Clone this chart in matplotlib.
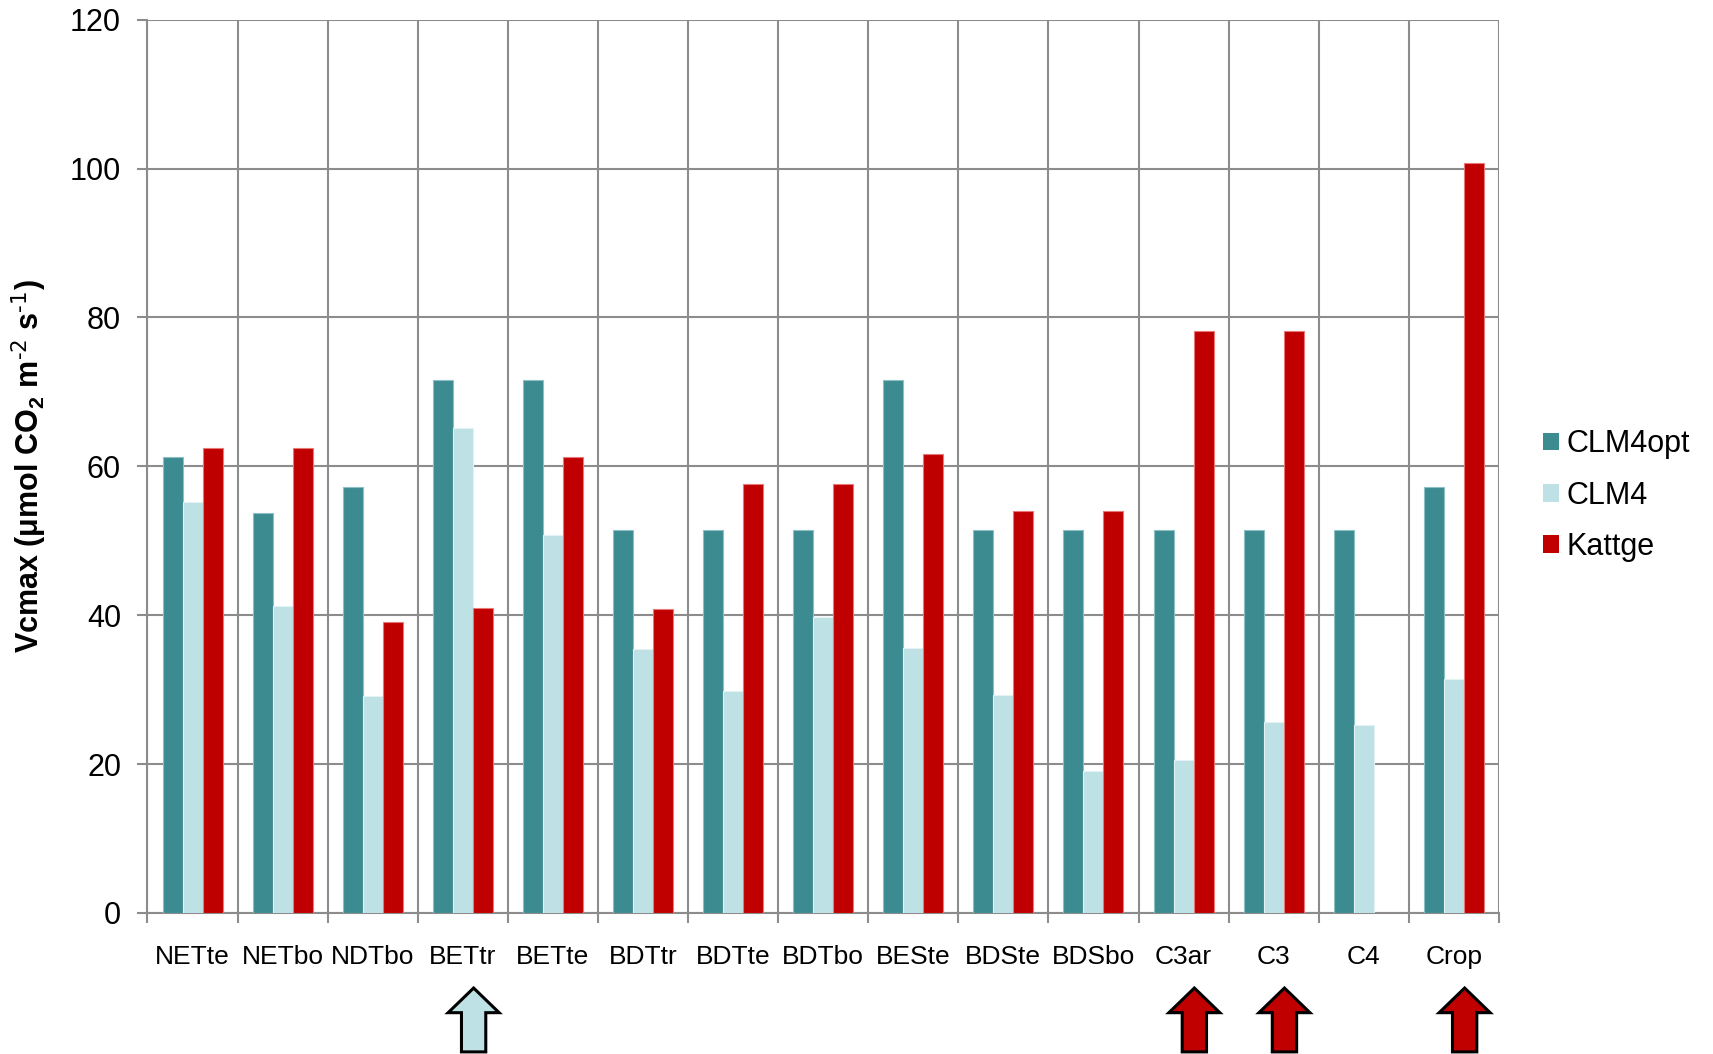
import matplotlib
matplotlib.use("Agg")
import matplotlib.pyplot as plt
import numpy as np
from matplotlib.patches import Patch, Polygon
import matplotlib.transforms as mtransforms

plt.rcParams['font.family'] = ['Liberation Sans', 'DejaVu Sans']
plt.rcParams['mathtext.default'] = 'regular'

categories = ['NETte', 'NETbo', 'NDTbo', 'BETtr', 'BETte', 'BDTtr', 'BDTte', 'BDTbo',
              'BESte', 'BDSte', 'BDSbo', 'C3ar', 'C3', 'C4', 'Crop']
clm4opt = [61.3, 53.7, 57.2, 71.6, 71.6, 51.5, 51.5, 51.5, 71.6, 51.5, 51.5, 51.5, 51.5, 51.5, 57.2]
clm4 = [55.2, 41.3, 29.2, 65.2, 50.8, 35.5, 29.8, 39.8, 35.6, 29.3, 19.1, 20.5, 25.7, 25.2, 31.4]
kattge = [62.5, 62.5, 39.1, 41.0, 61.3, 40.9, 57.6, 57.6, 61.6, 54.0, 54.0, 78.2, 78.2, 0.0, 100.7]
series_names = ['CLM4opt', 'CLM4', 'Kattge']
colors = ['#3C8B91', '#BDE1E5', '#C00000']
edgecolors = ['#8DC0C4', '#E3F2F4', '#E87878']

arrow_categories = ['BETtr', 'C3ar', 'C3', 'Crop']
arrow_colors = ['#BDE1E5', '#C00000', '#C00000', '#C00000']
yticks = [0, 20, 40, 60, 80, 100, 120]

fig = plt.figure(figsize=(17.13, 10.54), dpi=100)
ax = fig.add_axes([0.0861, 0.1338, 0.875 - 0.0861, 0.9813 - 0.1338])

x = np.arange(len(categories))
w = 0.222
for k, (vals, name) in enumerate(zip([clm4opt, clm4, kattge], series_names)):
    ax.bar(x + (k - 1) * w, vals, width=w, color=colors[k], edgecolor=edgecolors[k],
           linewidth=0.8, zorder=3, label=name)

ax.set_xlim(-0.5, len(categories) - 0.5)
ax.set_ylim(0, 120)
ax.set_yticks(yticks)
ax.set_yticklabels([str(v) for v in yticks], fontsize=22)

gridc = '#8C8C8C'
for b in np.arange(-0.5, len(categories), 1.0):
    ax.axvline(b, color=gridc, lw=1.5, zorder=1)
ax.yaxis.grid(True, color=gridc, lw=1.5, zorder=1)
ax.set_axisbelow(True)

ax.set_xticks(np.arange(-0.5, len(categories), 1.0))
ax.set_xticklabels([])
ax.set_xticks(x, minor=True)
ax.set_xticklabels(categories, minor=True, fontsize=19)
ax.tick_params(axis='x', which='minor', length=0, pad=23)
ax.tick_params(axis='x', which='major', length=7, width=1.5, color=gridc, direction='out')
ax.tick_params(axis='y', length=7, width=1.5, color=gridc, direction='out', pad=12)

for s in ['top', 'right']:
    ax.spines[s].set_visible(False)
for s in ['left', 'bottom']:
    ax.spines[s].set_color(gridc)
    ax.spines[s].set_linewidth(1.5)

ax.set_ylabel(r'Vcmax (μmol CO$_2$ m$^{\text{-2}}$ s$^{\text{-1}}$)', fontsize=22,
              fontweight='bold', labelpad=15)

handles = [Patch(facecolor=c, edgecolor='none') for c in colors]
fig.legend(handles, series_names, loc='center left', bbox_to_anchor=(0.9008, 0.5297),
           frameon=False, fontsize=22, handlelength=0.52, handleheight=0.52,
           handletextpad=0.26, labelspacing=0.7, borderpad=0, borderaxespad=0)

trans = mtransforms.blended_transform_factory(ax.transData, fig.transFigure)
hw, sw = 0.283, 0.135
tip, base, bot = 0.0626, 0.0392, 0.002
off = 0.12
for cat, c in zip(arrow_categories, arrow_colors):
    xi = categories.index(cat) + off
    pts = [(xi, tip), (xi + hw, base), (xi + sw, base), (xi + sw, bot),
           (xi - sw, bot), (xi - sw, base), (xi - hw, base)]
    poly = Polygon(pts, closed=True, facecolor=c, edgecolor='black', linewidth=2.2,
                   transform=trans, clip_on=False, joinstyle='miter')
    ax.add_patch(poly)

fig.savefig('out.png', dpi=100)
